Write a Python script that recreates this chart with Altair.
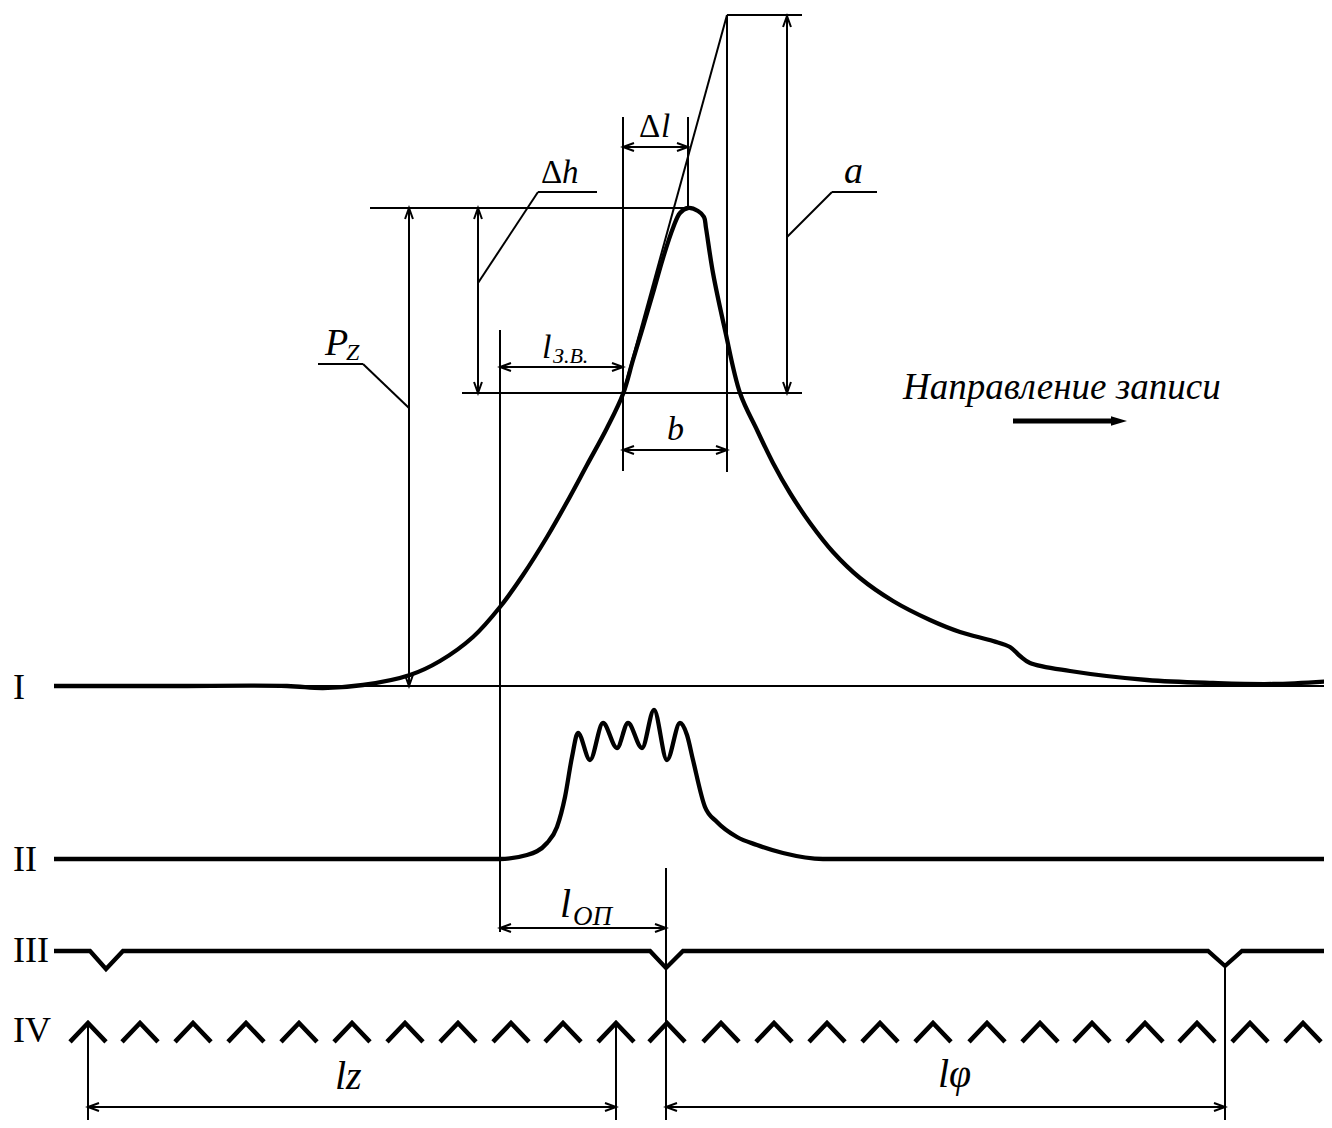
import altair as alt
import pandas as pd

# ---------------- data (picture coordinates, y grows downward) ----------------
# Trace I (pressure)
curve1_x = [54, 170, 287, 323, 363, 410, 440, 473, 500, 523, 547, 567, 587, 607, 623, 633, 643,
            653, 663, 673, 680, 688, 698, 704, 706, 713, 725, 740, 757, 773, 790, 810, 833, 860,
            893, 930, 960, 993, 1010, 1020, 1030, 1070, 1147, 1213, 1273, 1332]
curve1_y = [686, 686, 686, 688, 685, 675, 661, 637, 607, 575, 537, 502, 465, 428, 394, 360, 327,
            293, 258, 228, 213, 208, 211, 217, 228, 273, 330, 393, 430, 463, 493, 523, 552, 578,
            601, 620, 632, 641, 647, 656, 663, 671, 680, 683, 684, 681]

# Trace II (vibration)
curve2_x = [54, 500, 527, 547, 557, 565, 572, 578, 590, 603, 617, 628, 642, 654, 667, 680, 687,
            693, 705, 717, 737, 757, 783, 823, 1332]
curve2_y = [859, 859, 855, 843, 827, 797, 757, 733, 760, 723, 748, 723, 748, 710, 760, 723, 735,
            760, 807, 822, 837, 845, 853, 859, 859]

# Trace III (TDC marks)
trace3_x = [54, 90, 106, 123, 650, 666, 683, 1208, 1225, 1242, 1332]
trace3_y = [951, 951, 969, 951, 951, 968, 951, 951, 966, 951, 951]

# Trace IV (time marks) - apex positions
chevron_x = [88, 140, 193, 246, 299, 352, 405, 458, 511, 563, 616, 667, 721, 774, 827, 880,
             933, 987, 1040, 1092, 1145, 1197, 1250, 1303]
chevron_y = 1023

# Thin construction / dimension lines: x1, y1, x2, y2
seg_x1 = [54, 370, 462, 623, 727, 727, 787, 787, 832, 409, 409, 363, 478, 478, 538, 623, 688, 623,
          500, 500, 623, 500, 666, 616, 88, 1225, 88, 666]
seg_y1 = [686, 208, 393, 393, 15, 15, 16, 237, 192, 208, 408, 364, 208, 283, 192, 117, 117, 147,
          330, 367, 450, 928, 868, 1022, 1022, 965, 1107, 1107]
seg_x2 = [1332, 688, 802, 727, 802, 727, 787, 832, 877, 409, 363, 318, 478, 538, 597, 623, 688, 688,
          500, 623, 727, 666, 666, 616, 88, 1225, 616, 1225]
seg_y2 = [686, 208, 393, 15, 15, 472, 393, 192, 192, 686, 364, 364, 393, 192, 192, 471, 208, 147,
          932, 367, 450, 928, 1128, 1128, 1128, 1128, 1107, 1107]

# Arrow heads: tip x, tip y, direction angle (0 right, 90 down, 180 left, 270 up)
arrow_x = [787, 787, 409, 409, 478, 478, 623, 688, 500, 623, 623, 727, 500, 666, 88, 616, 666, 1225]
arrow_y = [16, 393, 208, 686, 208, 393, 147, 147, 367, 367, 450, 450, 928, 928, 1107, 1107, 1107, 1107]
arrow_a = [270, 90, 270, 90, 270, 90, 180, 0, 180, 0, 180, 0, 180, 0, 180, 0, 180, 0]

# Direction-of-recording arrow
dir_x = [1013, 1112]
dir_y = [421, 421]
dir_tip = (1127, 421)

# Texts: text, left x, baseline y, font size
upright_text = ["I", "II", "III", "IV", "Δ", "Δ"]
upright_x = [13, 13, 13, 13, 541, 639]
upright_y = [699, 871, 962, 1042, 183, 137]
upright_s = [36, 36, 36, 36, 33, 33]

italic_text = ["a", "h", "l", "b", "P", "Z", "l", "З.В.", "l", "ОП", "lz", "lφ",
               "Направление записи"]
italic_x = [844, 562, 661, 667, 325, 346, 542, 553, 560, 573, 335, 938, 903]
italic_y = [183, 183, 137, 440, 355, 360, 358, 363, 917, 925, 1089, 1087, 399]
italic_s = [38, 33, 33, 34, 38, 24, 34, 22, 40, 27, 40, 40, 37]

# ---------------- chart ----------------
W, H = 1316, 1112
xs = alt.Scale(domain=[8, 1324], nice=False, zero=False)
ys = alt.Scale(domain=[8, 1120], reverse=True, nice=False, zero=False)
FONT = "Liberation Serif"


def X(f="x"):
    return alt.X(f"{f}:Q", scale=xs, axis=None)


def Y(f="y"):
    return alt.Y(f"{f}:Q", scale=ys, axis=None)


c1 = pd.DataFrame({"x": curve1_x, "y": curve1_y})
c2 = pd.DataFrame({"x": curve2_x, "y": curve2_y})
c3 = pd.DataFrame({"x": trace3_x, "y": trace3_y})
segs = pd.DataFrame({"x": seg_x1, "y": seg_y1, "x2": seg_x2, "y2": seg_y2})
arrows = pd.DataFrame({"x": arrow_x, "y": arrow_y, "a": arrow_a})
chev = pd.DataFrame({"x": chevron_x, "y": [chevron_y] * len(chevron_x)})
dirl = pd.DataFrame({"x": dir_x, "y": dir_y})
dirt = pd.DataFrame({"x": [dir_tip[0]], "y": [dir_tip[1]]})
t_up = pd.DataFrame({"t": upright_text, "x": upright_x, "y": upright_y, "s": upright_s})
t_it = pd.DataFrame({"t": italic_text, "x": italic_x, "y": italic_y, "s": italic_s})

rules = alt.Chart(segs).mark_rule(color="black", strokeWidth=2, clip=True).encode(
    x=X(), y=Y(), x2="x2:Q", y2="y2:Q")

line1 = alt.Chart(c1).mark_line(color="black", strokeWidth=4.3, interpolate="catmull-rom",
                                clip=True).encode(x=X(), y=Y())
line2 = alt.Chart(c2).mark_line(color="black", strokeWidth=4.3, interpolate="monotone",
                                clip=True).encode(x=X(), y=Y())
line3 = alt.Chart(c3).mark_line(color="black", strokeWidth=4.3, strokeJoin="miter",
                                clip=True).encode(x=X(), y=Y())

heads = alt.Chart(arrows).mark_point(
    shape="M-1,-0.36L0,0L-1,0.36", size=484, filled=False, color="black",
    strokeWidth=2, opacity=1).encode(x=X(), y=Y(), angle=alt.Angle("a:Q", scale=None))

chevrons = alt.Chart(chev).mark_point(
    shape="M-1,1.05L0,0L1,1.05", size=1296, filled=False, color="black",
    strokeWidth=4.6, strokeJoin="miter", opacity=1).encode(x=X(), y=Y())

dir_line = alt.Chart(dirl).mark_line(color="black", strokeWidth=5).encode(x=X(), y=Y())
dir_head = alt.Chart(dirt).mark_point(
    shape="M-1,-0.3L0,0L-1,0.3Z", size=1024, filled=True, color="black",
    opacity=1).encode(x=X(), y=Y())

txt_up = alt.Chart(t_up).mark_text(font=FONT, align="left", baseline="alphabetic",
                                   color="black").encode(
    x=X(), y=Y(), text="t:N", size=alt.Size("s:Q", scale=None))
txt_it = alt.Chart(t_it).mark_text(font=FONT, fontStyle="italic", align="left",
                                   baseline="alphabetic", color="black").encode(
    x=X(), y=Y(), text="t:N", size=alt.Size("s:Q", scale=None))

chart = alt.layer(rules, line1, line2, line3, heads, chevrons, dir_line, dir_head,
                  txt_up, txt_it).properties(
    width=W, height=H,
    autosize=alt.AutoSizeParams(type="none"),
    padding=0,
    background="white",
).configure_view(stroke=None)

chart.save("out.html", embed_options={"renderer": "svg", "actions": False})
